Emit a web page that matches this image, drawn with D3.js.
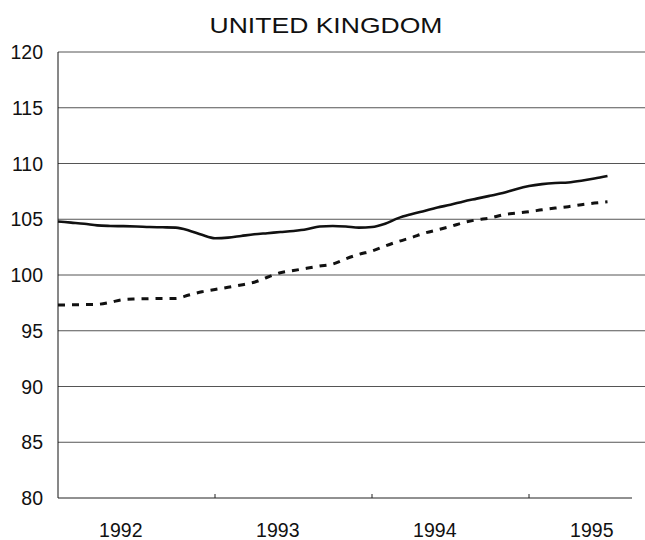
<!DOCTYPE html>
<html><head><meta charset="utf-8">
<script src="https://cdn.jsdelivr.net/npm/d3@7"></script>
<style>body{margin:0;background:#fff}svg{display:block}text{font-family:"Liberation Sans",Arial,sans-serif;fill:#111}</style>
</head><body>
<script>
const title = "UNITED KINGDOM";
const yTicks = [80, 85, 90, 95, 100, 105, 110, 115, 120];
const years = [1992, 1993, 1994, 1995];
// monthly observations from Jan 1992
const solidSeries = [104.8,104.7,104.6,104.45,104.4,104.38,104.35,104.3,104.28,104.25,104.0,103.6,
  103.3,103.35,103.5,103.65,103.75,103.85,103.95,104.1,104.35,104.4,104.35,104.25,
  104.3,104.6,105.1,105.45,105.75,106.05,106.3,106.6,106.85,107.1,107.35,107.7,
  107.98,108.15,108.25,108.3,108.45,108.65,108.88];
const dashedSeries = [97.3,97.33,97.35,97.37,97.55,97.8,97.85,97.88,97.9,97.9,98.2,98.5,
  98.7,98.9,99.1,99.35,99.8,100.2,100.4,100.6,100.8,100.98,101.45,101.85,
  102.15,102.6,103.0,103.35,103.75,104.05,104.35,104.7,104.95,105.1,105.4,105.55,
  105.68,105.85,106.0,106.13,106.3,106.45,106.57];

const W = 645, H = 540;
const svg = d3.select("body").append("svg").attr("width", W).attr("height", H);
const x = d3.scaleLinear().domain([1992, 1996]).range([58, 686]);
const y = d3.scaleLinear().domain([80, 120]).range([498, 52]);
const gridRight = 645, axisRight = 632;

svg.append("text").attr("x", 326).attr("y", 33).attr("text-anchor", "middle")
  .attr("font-size", 22).attr("textLength", 233).attr("lengthAdjust", "spacingAndGlyphs").text(title);

// gridlines
svg.append("g").selectAll("line").data(yTicks.filter(d => d > 80)).join("line")
  .attr("x1", 58).attr("x2", gridRight).attr("y1", d => y(d)).attr("y2", d => y(d))
  .attr("stroke", "#555").attr("stroke-width", 1);

// y labels
svg.append("g").selectAll("text").data(yTicks).join("text")
  .attr("x", 43).attr("y", d => y(d)).attr("dy", "0.36em").attr("text-anchor", "end")
  .attr("font-size", 19.5).text(d => d);

// axes
svg.append("line").attr("x1", 58).attr("x2", 58).attr("y1", y(120)).attr("y2", y(80))
  .attr("stroke", "#111").attr("stroke-width", 1);
svg.append("line").attr("x1", 58).attr("x2", axisRight).attr("y1", y(80)).attr("y2", y(80))
  .attr("stroke", "#222").attr("stroke-width", 1);
svg.append("g").selectAll("line").data(years.slice(1)).join("line")
  .attr("x1", d => x(d)).attr("x2", d => x(d)).attr("y1", y(80)).attr("y2", y(80) - 4)
  .attr("stroke", "#222").attr("stroke-width", 1);

// x labels
svg.append("g").selectAll("text").data(years).join("text")
  .attr("x", d => x(d + 0.4)).attr("y", 537).attr("text-anchor", "middle")
  .attr("font-size", 19.5).text(d => d);

const line = d3.line().x((d, i) => x(1992 + i / 12)).y(d => y(d)).curve(d3.curveMonotoneX);
svg.append("path").attr("d", line(solidSeries)).attr("fill", "none")
  .attr("stroke", "#111").attr("stroke-width", 2.6);
svg.append("path").attr("d", line(dashedSeries)).attr("fill", "none")
  .attr("stroke", "#111").attr("stroke-width", 3).attr("stroke-dasharray", "7,7");
</script>
</body></html>
